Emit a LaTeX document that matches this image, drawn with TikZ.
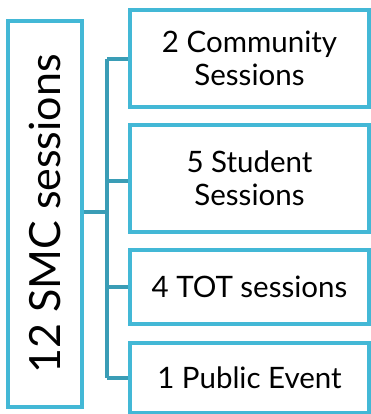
\documentclass[tikz,border=0pt]{standalone}
\usepackage{fontspec}
\setmainfont{Lato}
\definecolor{boxc}{HTML}{43B8D6}
\definecolor{linec}{HTML}{3A9DB6}
\begin{document}
\begin{tikzpicture}[x=1pt,y=-1pt,
  subbox/.style={draw=boxc,line width=3.5pt,fill=white,align=center,inner sep=0pt,
    minimum width=239pt,font=\fontsize{29.5}{33}\selectfont},
  conn/.style={draw=linec,line width=3.5pt}]
\useasboundingbox (0,0) rectangle (371,414);
\node[draw=boxc,line width=3.5pt,fill=white,minimum width=386pt,minimum height=74pt,inner sep=0pt,
  rotate=90,font=\fontsize{43}{48}\selectfont] (main) at (45,214) {12 SMC sessions};
\node[subbox,minimum height=97pt] (b1) at (249.5,58.5) {2 Community\\Sessions};
\node[subbox,minimum height=107pt] (b2) at (249.5,178.5) {5 Student\\Sessions};
\node[subbox,minimum height=74pt] (b3) at (249.5,287) {4 TOT sessions};
\node[subbox,minimum height=70pt] (b4) at (249.5,378) {1 Public Event};
\coordinate (j) at (107,212);
\coordinate (t1) at (107,59);
\coordinate (t2) at (107,181);
\coordinate (t3) at (107,287);
\coordinate (t4) at (107,378);
\draw[conn] (main.south |- j) -- (j);
\draw[conn] (t1) -- (t4);
\draw[conn] (t1) -- (b1.west |- t1);
\draw[conn] (t2) -- (b2.west |- t2);
\draw[conn] (t3) -- (b3.west);
\draw[conn] (t4) -- (b4.west);
\end{tikzpicture}
\end{document}
